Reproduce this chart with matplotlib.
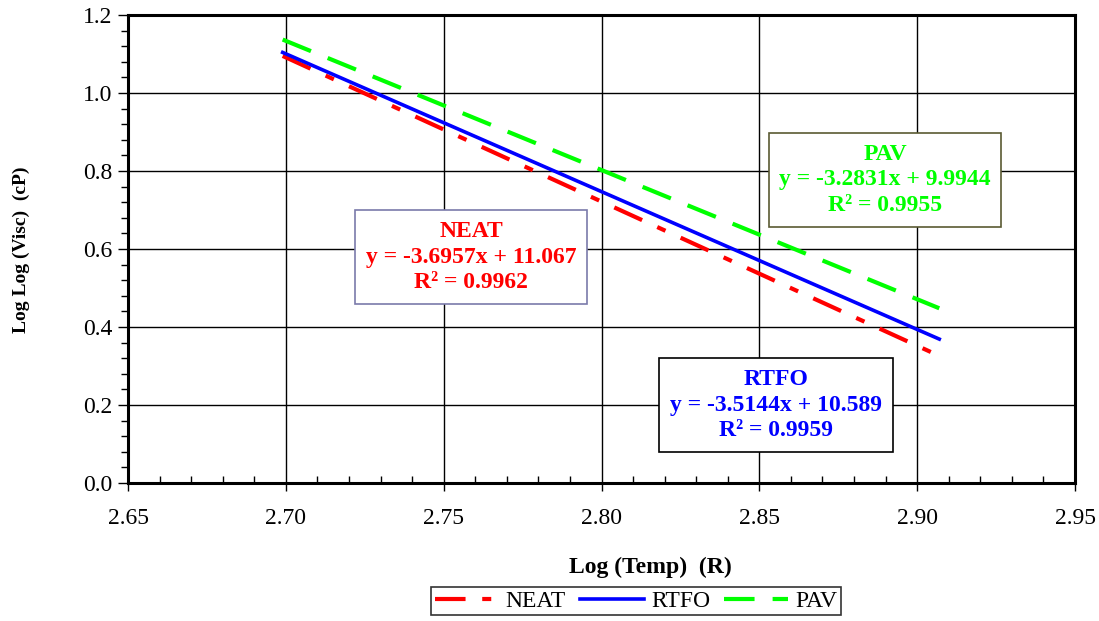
import matplotlib
matplotlib.use("Agg")
import matplotlib.pyplot as plt
from matplotlib.ticker import MultipleLocator, FormatStrFormatter

plt.rcParams['font.family'] = ['Liberation Serif', 'DejaVu Serif']
plt.rcParams['lines.scale_dashes'] = False

series = ["NEAT", "RTFO", "PAV"]
x_ends = [2.699, 2.907]
neat_y = [1.095, 0.326]
rtfo_y = [1.104, 0.369]
pav_y = [1.137, 0.448]
equations = ["y = -3.6957x + 11.067", "y = -3.5144x + 10.589", "y = -3.2831x + 9.9944"]
r2_labels = ["R² = 0.9962", "R² = 0.9959", "R² = 0.9955"]
colors = ["#ff0000", "#0000ff", "#00ff00"]

fig = plt.figure(figsize=(10.99, 6.21), dpi=100)
ax = fig.add_axes([128/1099, 1-483/621, (1075-128)/1099, (483-15)/621])

ax.plot(x_ends, neat_y, color=colors[0], lw=3.0, dashes=(22, 12, 6.5, 12), label=series[0])
ax.plot(x_ends, rtfo_y, color=colors[1], lw=2.6, label=series[1])
ax.plot(x_ends, pav_y, color=colors[2], lw=3.0, dashes=(22, 13), label=series[2])

ax.set_xlim(2.65, 2.95)
ax.set_ylim(0, 1.2)
ax.xaxis.set_major_locator(MultipleLocator(0.05))
ax.xaxis.set_minor_locator(MultipleLocator(0.01))
ax.yaxis.set_major_locator(MultipleLocator(0.2))
ax.yaxis.set_minor_locator(MultipleLocator(0.04))
ax.xaxis.set_major_formatter(FormatStrFormatter('%.2f'))
ax.yaxis.set_major_formatter(FormatStrFormatter('%.1f'))
ax.grid(True, which='major', color='black', lw=1.0)
ax.set_axisbelow(True)
for s in ax.spines.values():
    s.set_linewidth(2.2)
    s.set_color('black')
ax.tick_params(axis='x', which='major', direction='out', length=6, width=1, labelsize=17, pad=12)
ax.tick_params(axis='x', which='minor', direction='in', length=5, width=1)
ax.tick_params(axis='y', which='major', direction='out', length=7, width=1, labelsize=17, pad=4)
ax.tick_params(axis='y', which='minor', direction='out', length=5, width=1)

fig.text(650/1099, 1-567/621, "Log (Temp)  (R)", ha='center', va='center', fontsize=17, fontweight='bold')
fig.text(21/1099, 1-250/621, "Log Log (Visc)  (cP)", ha='center', va='center', rotation=90, fontsize=14, fontweight='bold')

box_specs = [
    (471/1099, 1-257/621, '#7a7aaa'),
    (776/1099, 1-405/621, '#000000'),
    (885/1099, 1-180/621, '#5a5a32'),
]
for i, (bx, by, ec) in enumerate(box_specs):
    fig.text(bx, by, f"{series[i]}\n{equations[i]}\n{r2_labels[i]}", ha='center', va='center',
             fontsize=17, fontweight='bold', color=colors[i], linespacing=1.28,
             bbox=dict(boxstyle='square,pad=0.45', fc='white', ec=ec, lw=1.2))

leg = fig.legend(loc='center', bbox_to_anchor=(636/1099, 1-601/621), ncol=3, frameon=True,
                 fancybox=False, edgecolor='black', fontsize=17, handlelength=2.7,
                 columnspacing=0.6, handletextpad=0.3, borderpad=0.15)
leg.get_frame().set_linewidth(1.2)

fig.savefig("out.png", dpi=100)
